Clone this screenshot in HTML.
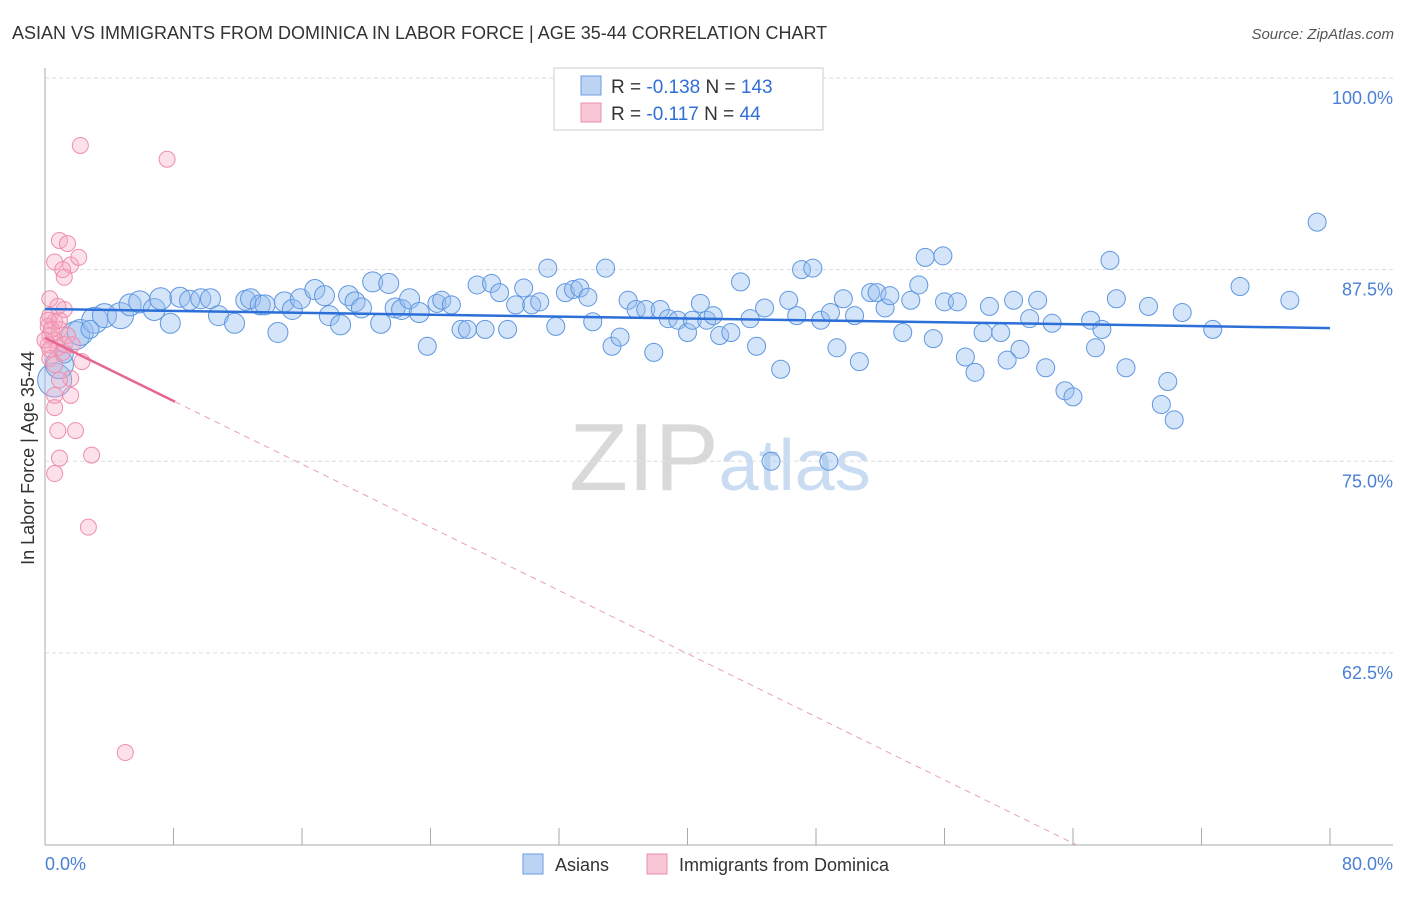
<!DOCTYPE html>
<html><head><meta charset="utf-8"><style>
body{margin:0;background:#fff;font-family:"Liberation Sans",sans-serif;}
svg text{font-family:"Liberation Sans",sans-serif;}
</style></head><body>
<svg id="chart" width="1406" height="892" viewBox="0 0 1406 892" xmlns="http://www.w3.org/2000/svg">
<text x="12" y="39" font-size="18" fill="#333">ASIAN VS IMMIGRANTS FROM DOMINICA IN LABOR FORCE | AGE 35-44 CORRELATION CHART</text>
<text x="1394" y="39" font-size="15" fill="#555" text-anchor="end" font-style="italic">Source: ZipAtlas.com</text>
<text x="720" y="490" font-size="96" text-anchor="middle" fill="#ddd" font-family="Liberation Serif"><tspan fill="#d9d9d9">ZIP</tspan><tspan fill="#c9dcf2" font-family="Liberation Sans" font-size="72">atlas</tspan></text>
<g id="grid"></g>
<g id="axes"></g>
<g id="pts"></g>
<g id="lines"></g>
<text transform="translate(34,458) rotate(-90)" font-size="18" fill="#333" text-anchor="middle">In Labor Force | Age 35-44</text>
<text x="45" y="870" font-size="18" fill="#4a7fd6">0.0%</text>
<text x="1393" y="870" font-size="18" fill="#4a7fd6" text-anchor="end">80.0%</text>
<g>
<rect x="554" y="68" width="269" height="62" fill="#fff" stroke="#ccc"/>
<rect x="581" y="76" width="20" height="19" fill="#bcd3f3" stroke="#6b9de0"/>
<rect x="581" y="103" width="20" height="19" fill="#f8c6d4" stroke="#ec8fab"/>
<text x="611" y="93" font-size="19" fill="#333">R = <tspan fill="#2f6fd6">-0.138</tspan>   N = <tspan fill="#2f6fd6">143</tspan></text>
<text x="611" y="120" font-size="19" fill="#333">R =  <tspan fill="#2f6fd6">-0.117</tspan>   N =  <tspan fill="#2f6fd6">44</tspan></text>
</g>
<g>
<rect x="523" y="854" width="20" height="20" fill="#bcd3f3" stroke="#6b9de0"/>
<text x="555" y="871" font-size="18" fill="#333">Asians</text>
<rect x="647" y="854" width="20" height="20" fill="#f8c6d4" stroke="#ec8fab"/>
<text x="679" y="871" font-size="18" fill="#333">Immigrants from Dominica</text>
</g>
</svg>
<script>
const yTicks=[100,87.5,75,62.5];
const yTickLabels=["100.0%","87.5%","75.0%","62.5%"];
const xTicks=[0,8,16,24,32,40,48,56,64,72,80];
const asianX=[0.6,0.9,1.9,2.2,3.1,3.7,4.7,5.3,5.9,6.8,7.2,7.8,8.4,9.0,9.7,10.3,10.8,11.8,12.5,12.8,13.4,13.7,14.5,14.9,15.4,15.9,16.8,17.4,17.7,18.4,18.9,19.3,19.7,20.4,20.9,21.4,21.8,22.2,22.7,23.3,23.8,24.4,24.7,25.3,25.9,26.3,26.9,27.4,27.8,28.3,28.8,29.3,29.8,30.3,30.8,31.3,31.8,32.4,32.9,33.3,33.8,34.1,34.9,35.3,35.8,36.3,36.8,37.4,37.9,38.3,38.8,39.4,40.0,40.3,40.8,41.2,41.6,42.0,42.7,43.3,43.9,44.3,44.8,45.8,46.3,46.8,47.1,47.8,48.3,48.8,48.9,49.3,49.7,50.4,50.7,51.4,51.8,52.3,52.6,53.4,53.9,54.4,54.8,55.3,55.9,56.0,56.8,57.3,57.9,58.4,58.8,59.5,59.9,60.3,60.7,61.3,61.8,62.3,62.7,63.5,64.0,65.1,65.4,65.8,66.3,66.7,67.3,68.7,69.5,69.9,70.3,70.8,72.7,74.4,77.5,79.2,45.2,1.2,2.8];
const asianY=[80.3,81.3,83.2,83.4,84.2,84.5,84.5,85.2,85.4,84.9,85.6,84.0,85.7,85.5,85.6,85.6,84.5,84.0,85.5,85.6,85.2,85.2,83.4,85.4,84.9,85.6,86.2,85.8,84.5,83.9,85.8,85.4,85.0,86.7,84.0,86.6,85.0,84.9,85.6,84.7,82.5,85.3,85.5,85.2,83.6,83.6,86.5,83.6,86.6,86.0,83.6,85.2,86.3,85.2,85.4,87.6,83.8,86.0,86.2,86.3,85.7,84.1,87.6,82.5,83.1,85.5,84.9,84.9,82.1,84.9,84.3,84.2,83.4,84.2,85.3,84.2,84.5,83.2,83.4,86.7,84.3,82.5,85.0,81.0,85.5,84.5,87.5,87.6,84.2,75.0,84.7,82.4,85.6,84.5,81.5,86.0,86.0,85.0,85.8,83.4,85.5,86.5,88.3,83.0,88.4,85.4,85.4,81.8,80.8,83.4,85.1,83.4,81.6,85.5,82.3,84.3,85.5,81.1,84.0,79.6,79.2,84.2,82.4,83.6,88.1,85.6,81.1,85.1,78.7,80.2,77.7,84.7,83.6,86.4,85.5,90.6,75.0,82.0,83.6];
const asianR=[17,14,14,13,13,12,13,11,11,11,11,10,10,10,10,10,10,10,10,10,10,10,10,10,10,10,10,10,10,10,10,10,10,10,10,10,10,10,10,10,9,9,9,9,9,9,9,9,9,9,9,9,9,9,9,9,9,9,9,9,9,9,9,9,9,9,9,9,9,9,9,9,9,9,9,9,9,9,9,9,9,9,9,9,9,9,9,9,9,9,9,9,9,9,9,9,9,9,9,9,9,9,9,9,9,9,9,9,9,9,9,9,9,9,9,9,9,9,9,9,9,9,9,9,9,9,9,9,9,9,9,9,9,9,9,9,9,9,9,9,11,12];
const domX=[2.2,7.6,0.9,1.4,0.6,1.6,2.1,1.1,1.2,0.3,1.2,0.3,0.6,0.2,0.9,0.3,0.6,1.4,0.2,0.8,1.1,0.3,0.6,2.3,1.6,0.9,0.6,1.6,0.6,0.8,1.9,0.9,2.9,0.6,2.7,5.0,0.2,0.4,0.0,0.9,0.3,1.2,1.7,0.8];
const domY=[95.6,94.7,89.4,89.2,88.0,87.8,88.3,87.5,87.0,85.6,84.9,84.5,84.1,83.8,83.6,83.2,82.9,83.2,82.6,82.4,82.1,81.7,81.3,81.5,80.4,80.3,79.3,79.3,78.5,77.0,77.0,75.2,75.4,74.2,70.7,56.0,84.2,83.6,82.9,84.2,82.3,82.6,82.6,85.1];
const X0=45,X1=1330,YTOP=78,PXPER=15.33;
const xs=v=>X0+(v/80)*(X1-X0);
const ys=v=>YTOP+(100-v)*PXPER;
const NS="http://www.w3.org/2000/svg";
function mk(tag,attrs,parent){const e=document.createElementNS(NS,tag);for(const k in attrs)e.setAttribute(k,attrs[k]);parent.appendChild(e);return e;}
const grid=document.getElementById('grid'),axes=document.getElementById('axes'),pts=document.getElementById('pts'),lines=document.getElementById('lines');
yTicks.forEach((t,i)=>{
 const l=mk('line',{x1:X0,x2:1393,y1:ys(t),y2:ys(t),stroke:'#ddd','stroke-dasharray':'4,3'},grid);
 
 
 const tx=mk('text',{x:1393,y:ys(t)+26,'font-size':18,fill:'#4a7fd6','text-anchor':'end'},grid);
 tx.textContent=yTickLabels[i];
 
 
});
const ya=mk('line',{x1:X0,x2:X0,y1:68,y2:845,stroke:'#aaa'},axes);


const xa=mk('line',{x1:X0,x2:1393,y1:845,y2:845,stroke:'#aaa'},axes);


xTicks.forEach(t=>{
 const l=mk('line',{x1:xs(t),x2:xs(t),y1:828,y2:845,stroke:'#aaa'},axes);
 
 
});
asianX.forEach((x,i)=>{
 const c=mk('circle',{cx:xs(x),cy:ys(asianY[i]),r:asianR[i],fill:'rgba(150,190,240,0.4)',stroke:'#5f97e0','stroke-width':1},pts);
 
 
});
domX.forEach((x,i)=>{
 const c=mk('circle',{cx:xs(x),cy:ys(domY[i]),r:8,fill:'rgba(245,170,195,0.35)',stroke:'#ee8eab','stroke-width':1},pts);
 
 
});
function fit(X,Y){const n=X.length;let mx=0,my=0;X.forEach((v,i)=>{mx+=v;my+=Y[i]});mx/=n;my/=n;let sxy=0,sxx=0;X.forEach((v,i)=>{sxy+=(v-mx)*(Y[i]-my);sxx+=(v-mx)**2});const b=sxy/sxx;return [my-b*mx,b];}
const [ba,bb]=fit(asianX,asianY);
const bl=mk('line',{x1:xs(0),y1:ys(ba),x2:xs(80),y2:ys(ba+bb*80),stroke:'#2c6fd8','stroke-width':2.5},lines);


const [pa,pb]=fit(domX,domY);
const xe=8.1;
const pl=mk('line',{x1:xs(0),y1:ys(pa),x2:xs(xe),y2:ys(pa+pb*xe),stroke:'#e8658f','stroke-width':2.5},lines);


const xb=Math.min(80,(50-pa)/pb);
const pd=mk('line',{x1:xs(xe),y1:ys(pa+pb*xe),x2:xs(xb),y2:ys(pa+pb*xb),stroke:'#e8a0b8','stroke-width':1,'stroke-dasharray':'6,5'},lines);


</script>
</body></html>
